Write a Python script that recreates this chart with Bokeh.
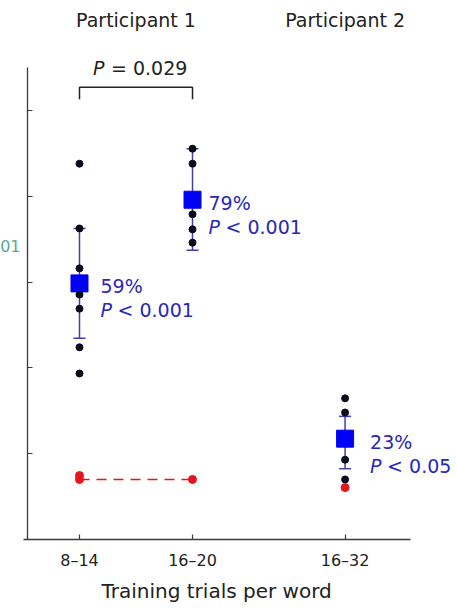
from bokeh.plotting import figure
from bokeh.models import FixedTicker, ColumnDataSource, Whisker, TeeHead, Title
from bokeh.core.properties import value
from bokeh.embed import file_html
from bokeh.resources import INLINE

# ---------------- data ----------------
categories = ["8–14", "16–20", "16–32"]
cat_x = [1.0, 2.0, 3.35]
participants = ["Participant 1", "Participant 2"]
participant_x = [1.5, 3.35]

dots_p1_a = [87.6, 72.5, 63.2, 57.1, 53.8, 44.8, 38.7]   # 8–14
dots_p1_b = [91.1, 87.6, 75.8, 72.3, 69.2]               # 16–20
dots_p2 = [32.9, 29.6, 18.6, 14.0]                       # 16–32

chance_p1_a = [14.9, 14.0]
chance_p1_b = [14.0]
chance_p2 = [12.1]
chance_line = [14.0, 14.0]

means = [59.7, 79.2, 23.5]
err_low = [46.9, 67.4, 16.5]
err_high = [72.5, 91.1, 28.7]
pct_labels = ["59%", "79%", "23%"]
p_labels = ["< 0.001", "< 0.001", "< 0.05"]

bracket_p_text = "= 0.029"
x_title = "Training trials per word"
y_axis_at = 0.54

FONT = "DejaVu Sans"
BLUE_TXT = "#2828b8"
BLUE_SQ = "#0000f5"
BAR_COL = "#4040a8"
DOT_COL = "#0b0b1c"
RED = "#e8141b"
INK = "#222222"

p = figure(width=455, height=609, x_range=(0.301, 4.327), y_range=(0, 125.64),
           min_border_left=0, min_border_right=0, min_border_top=0, min_border_bottom=70,
           output_backend="svg", toolbar_location=None)
p.outline_line_color = None
p.xgrid.visible = False
p.ygrid.visible = False
p.background_fill_color = "white"
p.border_fill_color = "white"

# axes
for ax in (p.xaxis[0], p.yaxis[0]):
    ax.axis_line_color = "#3a3a3a"
    ax.axis_line_width = 1.3
    ax.major_tick_line_color = "#3a3a3a"
    ax.major_tick_line_width = 1.2
    ax.major_tick_in = 5
    ax.major_tick_out = 0
    ax.minor_tick_line_color = None

p.xaxis.ticker = FixedTicker(ticks=cat_x)
p.xaxis.major_label_overrides = {x: c for x, c in zip(cat_x, categories)}
p.xaxis.major_label_text_font = FONT
p.xaxis.major_label_text_font_size = "16px"
p.xaxis.major_label_text_color = INK
p.xaxis.major_label_standoff = 11
p.xaxis.bounds = (0.505, 3.93)

p.yaxis.fixed_location = y_axis_at
p.yaxis.ticker = FixedTicker(ticks=[20, 40, 60, 80, 100])
p.yaxis.major_label_text_color = None
p.yaxis.major_label_standoff = 0
p.yaxis.bounds = (0, 110)

# x axis title, placed left of the frame centre like the reference
p.add_layout(Title(text=x_title, align="left", offset=101, text_font=FONT,
                   text_font_size="20px", text_font_style="normal", text_color=INK,
                   standoff=8), "below")

# error bars
eb = ColumnDataSource(dict(x=cat_x, lower=err_low, upper=err_high))
w = Whisker(source=eb, base="x", lower="lower", upper="upper", dimension="height",
            line_color=BAR_COL, line_width=1.5,
            upper_head=TeeHead(size=12, line_color=BAR_COL, line_width=1.5),
            lower_head=TeeHead(size=12, line_color=BAR_COL, line_width=1.5))
p.add_layout(w)

# chance dashed line
p.line(x=cat_x[:2], y=chance_line, line_color=RED, line_width=1.5, line_dash="10 7")

# mean squares
p.scatter(x=cat_x, y=means, marker="square", size=17, fill_color=BLUE_SQ, line_color=BLUE_SQ)

# individual dots
for xc, vals in zip(cat_x, [dots_p1_a, dots_p1_b, dots_p2]):
    p.scatter(x=[xc] * len(vals), y=vals, size=7, fill_color=DOT_COL, line_color=DOT_COL)
for xc, vals in zip(cat_x, [chance_p1_a, chance_p1_b, chance_p2]):
    p.scatter(x=[xc] * len(vals), y=vals, size=8, fill_color=RED, line_color=RED)

# annotations next to means
xo = [21, 16, 25]
p.text(x=cat_x, y=means, text=pct_labels, x_offset=xo, y_offset=3,
       text_font=value(FONT), text_font_size="19px", text_color=BLUE_TXT,
       text_baseline="middle", text_align="left")
p.text(x=cat_x, y=means, text=["P"] * 3, x_offset=xo, y_offset=27,
       text_font=value(FONT), text_font_size="19px", text_font_style="italic",
       text_color=BLUE_TXT, text_baseline="middle", text_align="left")
p.text(x=cat_x, y=means, text=p_labels, x_offset=[o + 17 for o in xo], y_offset=27,
       text_font=value(FONT), text_font_size="19px", text_color=BLUE_TXT,
       text_baseline="middle", text_align="left")

# bracket
p.line(x=[cat_x[0], cat_x[0], cat_x[1], cat_x[1]], y=[102.6, 105.4, 105.4, 102.6],
       line_color=INK, line_width=1.5)
mid = (cat_x[0] + cat_x[1]) / 2
p.text(x=[mid], y=[109.8], text=["P"], x_offset=-43, text_font=value(FONT),
       text_font_size="19px", text_font_style="italic", text_color=INK,
       text_baseline="middle", text_align="left")
p.text(x=[mid], y=[109.8], text=[bracket_p_text], x_offset=-25, text_font=value(FONT),
       text_font_size="19px", text_color=INK,
       text_baseline="middle", text_align="left")

# participant headers
p.text(x=participant_x, y=[121, 121], text=participants, text_font=value(FONT),
       text_font_size="19px", text_color=INK, text_baseline="middle", text_align="center")

# fragment of a neighbouring label, cut at the left edge
p.text(x=[y_axis_at], y=[68.5], text=["01"], x_offset=-7, text_font=value(FONT),
       text_font_size="16px", text_color="#5aa897", text_align="right",
       text_baseline="middle")

open("out.html", "w").write(file_html(p, INLINE))
